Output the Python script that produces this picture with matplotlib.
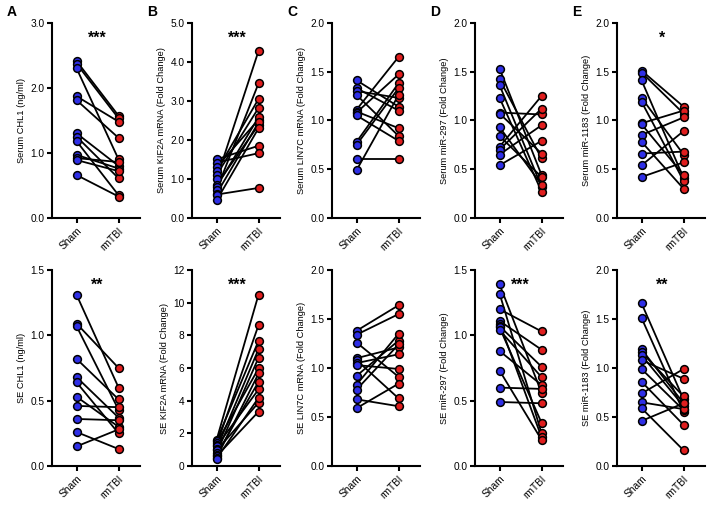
import matplotlib
matplotlib.use("Agg")
import matplotlib.pyplot as plt
from matplotlib.ticker import FormatStrFormatter, MultipleLocator

plt.rcParams['font.family'] = ['Liberation Sans', 'DejaVu Sans']

groups = ["Sham", "rmTBI"]

# Top row (Serum)
serum_chl1_sham = [2.41, 2.37, 2.30, 1.87, 1.81, 1.30, 1.25, 1.18, 0.97, 0.92, 0.89, 0.66]
serum_chl1_tbi = [1.57, 1.53, 0.90, 1.48, 1.23, 0.80, 0.61, 0.35, 0.76, 0.86, 0.72, 0.33]

serum_kif2a_sham = [1.50, 1.42, 1.30, 1.20, 1.10, 1.00, 0.85, 0.80, 0.72, 0.62, 0.60, 0.45]
serum_kif2a_tbi = [1.85, 1.66, 2.52, 3.05, 2.82, 4.28, 2.38, 2.58, 3.45, 2.45, 0.77, 2.30]

serum_lin7c_sham = [1.41, 1.33, 1.30, 1.26, 1.11, 1.09, 1.08, 1.05, 0.78, 0.75, 0.60, 0.49]
serum_lin7c_tbi = [1.14, 1.10, 1.23, 0.84, 1.65, 0.92, 1.47, 0.79, 1.38, 1.33, 0.60, 1.26]

serum_mir297_sham = [1.53, 1.42, 1.36, 1.23, 1.08, 1.07, 0.93, 0.84, 0.73, 0.70, 0.65, 0.54]
serum_mir297_tbi = [0.44, 0.61, 0.32, 0.27, 1.06, 0.66, 0.34, 0.42, 1.25, 1.12, 0.95, 0.79]

serum_mir1183_sham = [1.51, 1.49, 1.41, 1.23, 1.19, 0.97, 0.96, 0.85, 0.78, 0.66, 0.54, 0.42]
serum_mir1183_tbi = [1.14, 1.07, 0.41, 0.65, 0.38, 1.10, 0.44, 1.03, 0.30, 0.68, 0.89, 0.57]

# Bottom row (SE)
se_chl1_sham = [1.31, 1.09, 1.07, 0.82, 0.68, 0.64, 0.53, 0.46, 0.36, 0.26, 0.15]
se_chl1_tbi = [0.60, 0.75, 0.43, 0.51, 0.37, 0.25, 0.30, 0.45, 0.35, 0.13, 0.28]

se_kif2a_sham = [1.60, 1.55, 1.40, 1.30, 1.20, 1.05, 0.95, 0.80, 0.70, 0.60, 0.50, 0.45]
se_kif2a_tbi = [10.5, 7.67, 5.98, 8.63, 4.69, 7.16, 3.88, 6.63, 5.16, 3.33, 5.67, 4.18]

se_lin7c_sham = [1.38, 1.34, 1.26, 1.10, 1.08, 1.05, 1.03, 0.92, 0.83, 0.78, 0.68, 0.59]
se_lin7c_tbi = [1.64, 1.55, 0.91, 1.21, 0.69, 1.14, 0.99, 1.28, 1.35, 1.24, 0.61, 0.84]

se_mir297_sham = [1.39, 1.32, 1.20, 1.11, 1.09, 1.07, 1.06, 1.04, 0.88, 0.73, 0.60, 0.49]
se_mir297_tbi = [0.56, 0.25, 1.03, 0.89, 0.22, 0.76, 0.33, 0.68, 0.62, 0.20, 0.59, 0.48]

se_mir1183_sham = [1.66, 1.51, 1.19, 1.16, 1.13, 1.08, 0.99, 0.86, 0.74, 0.65, 0.59, 0.46]
se_mir1183_tbi = [0.68, 0.55, 0.64, 0.71, 0.61, 0.89, 0.57, 0.42, 0.99, 0.58, 0.16, 0.64]

panels = [
    # (letter, sham, tbi, ylabel, ymax, step, fmt, stars, row, col)
    ("A", serum_chl1_sham, serum_chl1_tbi, "Serum CHL1 (ng/ml)", 3.0, 1.0, "%.1f", "***", 0, 0),
    ("B", serum_kif2a_sham, serum_kif2a_tbi, "Serum KIF2A mRNA (Fold Change)", 5.0, 1.0, "%.1f", "***", 0, 1),
    ("C", serum_lin7c_sham, serum_lin7c_tbi, "Serum LIN7C mRNA (Fold Change)", 2.0, 0.5, "%.1f", "", 0, 2),
    ("D", serum_mir297_sham, serum_mir297_tbi, "Serum miR-297 (Fold Change)", 2.0, 0.5, "%.1f", "", 0, 3),
    ("E", serum_mir1183_sham, serum_mir1183_tbi, "Serum miR-1183 (Fold Change)", 2.0, 0.5, "%.1f", "*", 0, 4),
    ("", se_chl1_sham, se_chl1_tbi, "SE CHL1 (ng/ml)", 1.5, 0.5, "%.1f", "**", 1, 0),
    ("", se_kif2a_sham, se_kif2a_tbi, "SE KIF2A mRNA (Fold Change)", 12, 2, "%d", "***", 1, 1),
    ("", se_lin7c_sham, se_lin7c_tbi, "SE LIN7C mRNA (Fold Change)", 2.0, 0.5, "%.1f", "", 1, 2),
    ("", se_mir297_sham, se_mir297_tbi, "SE miR-297 (Fold Change)", 1.5, 0.5, "%.1f", "***", 1, 3),
    ("", se_mir1183_sham, se_mir1183_tbi, "SE miR-1183 (Fold Change)", 2.0, 0.5, "%.1f", "**", 1, 4),
]

W, H = 708, 505
fig = plt.figure(figsize=(W / 100, H / 100), dpi=100)

lefts = [52, 192, 332, 475, 617]
ax_w = 88
row_bounds = [(22.7, 218), (270, 466)]  # top px, bottom px
blue = "#2f2fe6"
red = "#e01e1e"

for letter, sham, tbi, ylabel, ymax, step, fmt, stars, r, c in panels:
    top, bot = row_bounds[r]
    ax = fig.add_axes([lefts[c] / W, 1 - bot / H, ax_w / W, (bot - top) / H])
    for s, t in zip(sham, tbi):
        ax.plot([0, 1], [s, t], color="black", lw=1.3, zorder=2, solid_capstyle="round")
    ax.plot([0] * len(sham), sham, "o", ms=5.6, mfc=blue, mec="black", mew=1.1, zorder=3, clip_on=False)
    ax.plot([1] * len(tbi), tbi, "o", ms=5.6, mfc=red, mec="black", mew=1.1, zorder=3, clip_on=False)
    ax.set_xlim(-0.585, 1.51)
    ax.set_ylim(0, ymax)
    ax.yaxis.set_major_locator(MultipleLocator(step))
    ax.yaxis.set_major_formatter(FormatStrFormatter(fmt))
    ax.set_xticks([0, 1])
    ax.set_xticklabels(groups, rotation=45, ha="right", rotation_mode="anchor")
    for sp in ["top", "right"]:
        ax.spines[sp].set_visible(False)
    for sp in ["left", "bottom"]:
        ax.spines[sp].set_linewidth(1.5)
    ax.tick_params(axis="both", width=1.5, length=3.5, labelsize=7.3, pad=2, direction="out")
    ax.set_ylabel(ylabel, fontsize=6.7, labelpad=3)
    if stars:
        ax.text(0.5, ymax * 0.92, stars, ha="center", va="center", fontsize=11.5, fontweight="bold")
    if letter:
        fig.text((lefts[c] - 45) / W, 1 - 12 / H, letter, fontsize=10, fontweight="bold", ha="left", va="center")

fig.savefig("out.png", dpi=100)
